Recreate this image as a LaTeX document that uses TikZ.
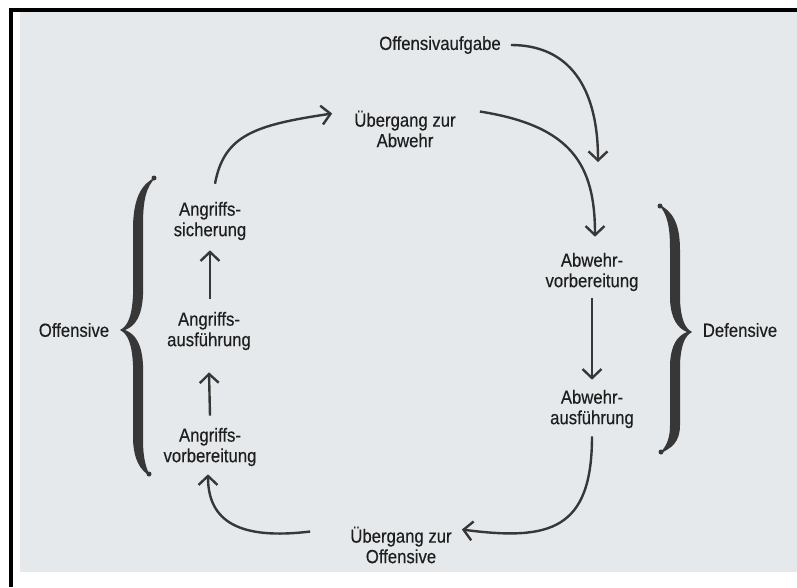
\documentclass[tikz,border=0pt]{standalone}
\usepackage{fontspec}
\setmainfont{Liberation Sans}[FakeStretch=0.88,FakeBold=0.35]
\usetikzlibrary{arrows.meta}
\definecolor{bgpaper}{RGB}{229,233,235}
\definecolor{ink}{RGB}{55,55,55}
\definecolor{txt}{RGB}{30,30,30}
\begin{document}
\begin{tikzpicture}[x=1pt,y=-1pt,
  lbl/.style={font=\fontsize{19}{20.5}\selectfont, text=txt, align=center, inner sep=0pt},
  arr/.style={draw=ink, line width=2.4pt, -{Straight Barb[length=9pt,width=19pt]}},
  bracefill/.style={fill=ink}]
\useasboundingbox (0,0) rectangle (797,587);
% page and frame
\fill[white] (0,0) rectangle (797,587);
\fill[bgpaper] (20,12) rectangle (797,572);
\fill[black] (9,8) rectangle (797,12);
\fill[black] (9,8) rectangle (13,587);

% nodes
\node[lbl] (oa) at (440,45) {Offensivaufgabe};
\node[lbl] (ua) at (405,129) {Übergang zur\\Abwehr};
\node[lbl] (av) at (592,272) {Abwehr-\\vorbereitung};
\node[lbl] (aa) at (592,409) {Abwehr-\\ausführung};
\node[lbl] (uo) at (401,545) {Übergang zur\\Offensive};
\node[lbl] (gv) at (210,447) {Angriffs-\\vorbereitung};
\node[lbl] (ga) at (209,331) {Angriffs-\\ausführung};
\node[lbl] (gs) at (210,221) {Angriffs-\\sicherung};
\node[lbl] (off) at (74,330) {Offensive};
\node[lbl] (def) at (740,330) {Defensive};

\coordinate (t1) at (598,162);

% connectors
\draw[arr] ([xshift=10pt]oa.east) .. controls +(58,0) and +(0,-75) .. (t1);
\draw[arr] ([xshift=24pt,yshift=-1pt]ua.north east) .. controls (572,126) and (595,165) .. ([xshift=3pt,yshift=16pt]av.north);
\draw[arr] ([yshift=-7pt]av.south) -- ([yshift=10pt]aa.north);
\draw[arr] ([yshift=-8pt]aa.south) .. controls (592,530) and (550,541) .. ([xshift=10pt,yshift=-3pt]uo.north east);
\draw[arr] ([xshift=-40pt,yshift=-5pt]uo.north west) .. controls (240,540) and (208,522) .. ([xshift=-2pt,yshift=-8pt]gv.south);
\draw[arr] ([yshift=12pt]gv.north) -- ([yshift=-22pt]ga.south);
\draw[arr] ([xshift=1pt,yshift=13pt]ga.north) -- ([yshift=-10pt]gs.south);
\draw[arr] ([xshift=5pt,yshift=18pt]gs.north) .. controls (224,135) and (255,125) .. ([xshift=-22pt,yshift=-3pt]ua.north west);

% left brace
\fill[bracefill] (156,177) .. controls (141,184) and (134,198) .. (133,225) -- (133,295)
  .. controls (132,316) and (128,326) .. (120,330)
  .. controls (128,334) and (132,344) .. (133,365) -- (133,440)
  .. controls (134,460) and (140,470) .. (150,476)
  .. controls (145,466) and (143,455) .. (143,440) -- (143,365)
  .. controls (142,345) and (136,334) .. (125,330)
  .. controls (136,326) and (142,315) .. (143,295) -- (143,225)
  .. controls (143,200) and (146,187) .. (156,177) -- cycle;
\fill[bracefill] (154,178) circle (2.5);
\fill[bracefill] (149,474) circle (2.5);

% right brace
\fill[bracefill] (658,204) .. controls (673,211) and (680,224) .. (680,250) -- (680,300)
  .. controls (681,320) and (685,328) .. (692,332)
  .. controls (685,336) and (681,344) .. (680,364) -- (680,425)
  .. controls (680,442) and (672,448) .. (659,454)
  .. controls (667,446) and (670,438) .. (670,425) -- (670,364)
  .. controls (671,345) and (677,336) .. (687,332)
  .. controls (677,328) and (671,318) .. (670,300) -- (670,250)
  .. controls (670,228) and (668,214) .. (658,204) -- cycle;
\fill[bracefill] (660,206) circle (2.5);
\fill[bracefill] (661,452) circle (2.5);
\end{tikzpicture}
\end{document}
